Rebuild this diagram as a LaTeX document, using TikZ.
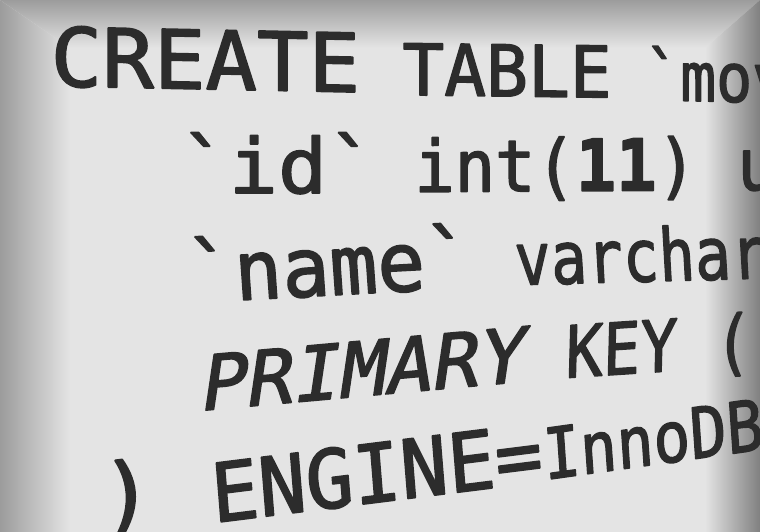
\documentclass[tikz,border=0pt]{standalone}
\usepackage{fontspec}
\newfontfamily\screenmono[FakeBold=2]{DejaVu Sans Mono}
\usepackage{tikz}
\usetikzlibrary{positioning}

\definecolor{ink}{RGB}{44,44,44}
\definecolor{scrlight}{RGB}{228,228,228}
\definecolor{scrmid}{RGB}{216,216,216}
\definecolor{scredge}{RGB}{156,156,156}
\definecolor{scrright}{RGB}{128,128,128}

\begin{document}
\begin{tikzpicture}[line join=bevel,
  codeword/.style={font=\screenmono\fontsize{10}{12}\selectfont,text=ink,inner sep=0pt,anchor=base west}]
%%
\useasboundingbox (0bp,0bp) rectangle (760bp,532bp);
\clip (0bp,0bp) rectangle (760bp,532bp);
\fill [scrlight] (0bp,0bp) rectangle (760bp,532bp);
\shade [left color=scredge,middle color=scrmid,right color=scrlight] (0bp,0bp) -- (0bp,532bp) -- (70bp,484bp) -- (70bp,0bp) -- cycle;
\shade [top color=scredge,middle color=scrmid,bottom color=scrlight] (0bp,532bp) -- (760bp,532bp) -- (705bp,484bp) -- (70bp,484bp) -- cycle;
\shade [left color=scrlight,middle color=scrmid,right color=scrright] (760bp,0bp) -- (760bp,532bp) -- (705bp,484bp) -- (705bp,0bp) -- cycle;
%
\node (line1_create) at (49bp,446bp) [codeword,yslant=-0.02,xscale=8.6,yscale=8.16] {CREATE};
  \node (line1_table) at (401bp,437bp) [codeword,yslant=-0.012,xscale=6.98,yscale=7.13] {TABLE};
  \node (line1_mov) at (643bp,432bp) [codeword,yslant=-0.02,xscale=6.0,yscale=6.8] {`mov};
\node (line2_id) at (178bp,339bp) [codeword,xscale=8.2,yscale=7.6] {`id`};
  \node (line2_int) at (413bp,340bp) [codeword,yslant=0.006,xscale=6.73,yscale=7.2] {int({\bfseries 11}) u};
\node (line3_name) at (187bp,229bp) [codeword,yslant=0.054,xscale=7.94,yscale=8.26,xslant=-0.073] {`name`};
  \node (line3_varchar) at (515bp,247bp) [codeword,yslant=0.027,xscale=6.0,yscale=7.3,xslant=-0.07] {varchar};
\node (line4_primary) at (197bp,121bp) [codeword,yslant=0.09,xscale=7.74,yscale=7.6,xslant=0.147] {PRIMARY};
  \node (line4_key) at (564bp,154bp) [codeword,yslant=0.065,xscale=6.2,yscale=7.2,xslant=0.03] {KEY (`};
\node (line5_paren) at (98bp,3bp) [codeword,yslant=0.125,xscale=9,yscale=8.8] {)};
  \node (line5_engine) at (212bp,9bp) [codeword,yslant=0.125,xscale=7.88,yscale=8.2,xslant=-0.083] {ENGINE=};
  \node (line5_innodb) at (544bp,52bp) [codeword,yslant=0.14,xscale=6.1,yscale=7.1,xslant=-0.08] {InnoDB};
%
\end{tikzpicture}
\end{document}
